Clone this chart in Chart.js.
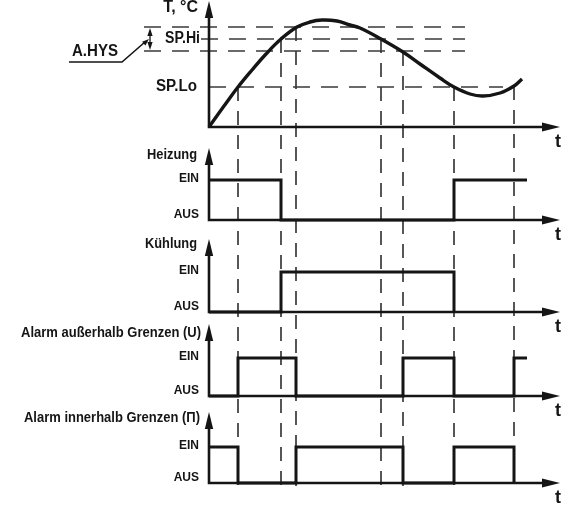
<!DOCTYPE html>
<html lang="de">
<head>
    <meta charset="UTF-8">
    <title>Regelung und Alarm</title>
    <style>
        body {
            margin: 0;
            background-color: #fff;
        }

        #wrap {
            position: relative;
            width: 573px;
            height: 507px;
        }
    </style>
</head>
<body>
    <div id="wrap">
        <canvas id="diagram" width="573" height="507"></canvas>
    </div>

    <script src="https://cdn.jsdelivr.net/npm/chart.js"></script>
    <script>
        // time t = 0 is the origin of every axis, temperature in the same units as the plot
        const curveTimes = [0, 15, 29, 43, 57, 72, 88, 101, 113, 128, 141, 151, 172, 194, 211, 231, 245, 261, 274, 291, 305, 313];
        const curveTemps = [0, 21, 40, 57, 73, 88, 100, 105, 107, 106, 102, 99, 88, 75, 63, 49, 40, 33, 31, 34, 41, 48];

        const spLo = 40;
        const spHi = 88;
        const hys = 12;

        // moments where the curve crosses a limit, and the temperature there
        const switchTimes = [29, 72, 87, 172, 194, 245, 305];
        const switchTemps = [40, 88, 100, 88, 75, 40, 41];

        const heizungTimes = [0, 72, 245, 318];
        const heizungStates = [1, 0, 1, 1];
        const kuehlungTimes = [0, 72, 245];
        const kuehlungStates = [0, 1, 0];
        const aussenTimes = [0, 29, 87, 194, 245, 305, 318];
        const aussenStates = [0, 1, 0, 1, 0, 1, 1];
        const innenTimes = [0, 29, 87, 194, 245, 305];
        const innenStates = [1, 0, 1, 0, 1, 0];

        // layout (pixels)
        const W = 573, H = 507;
        const X0 = 209;
        const T_AXIS = 127;
        const BOTTOM = 486;
        const TIP_X = 560;

        const panels = [
            { id: 'yH', title: 'Heizung', axis: 220, ein: 180, tip: 148, titleY: 155, titleRight: 197, titleW: 50, times: heizungTimes, states: heizungStates },
            { id: 'yK', title: 'Kühlung', axis: 312, ein: 272, tip: 239, titleY: 244, titleRight: 197, titleW: 52, times: kuehlungTimes, states: kuehlungStates },
            { id: 'yU', title: 'Alarm außerhalb Grenzen (U)', axis: 396, ein: 358, tip: 324, titleY: 333, titleRight: 201, titleW: 180, times: aussenTimes, states: aussenStates },
            { id: 'yP', title: 'Alarm innerhalb Grenzen (Π)', axis: 483, ein: 447, tip: 412, titleY: 418, titleRight: 200, titleW: 176, times: innenTimes, states: innenStates }
        ];

        const INK = '#151515';
        const DASH = '#3a3a3a';

        const scales = {
            x: { type: 'linear', display: false, min: -X0, max: W - X0 },
            y: { type: 'linear', display: false, min: T_AXIS - H, max: T_AXIS }
        };
        panels.forEach(p => {
            const span = p.axis - p.ein;
            scales[p.id] = { type: 'linear', display: false, min: (p.axis - H) / span, max: p.axis / span };
        });

        const datasets = [];

        datasets.push({
            data: curveTimes.map((t, i) => ({ x: t, y: curveTemps[i] })),
            yAxisID: 'y',
            borderColor: INK,
            borderWidth: 3.4,
            tension: 0.4,
            pointRadius: 0,
            order: 0
        });

        panels.forEach(p => {
            datasets.push({
                data: p.times.map((t, i) => ({ x: t, y: p.states[i] })),
                yAxisID: p.id,
                stepped: true,
                borderColor: INK,
                borderWidth: 3,
                borderJoinStyle: 'miter',
                pointRadius: 0,
                order: 0
            });
        });

        // horizontal guide lines: [temperature, from t, to t]
        const guides = [
            [spHi + hys, -65, 256],
            [spHi, -8, 256],
            [spHi - hys, -65, 256],
            [spLo, 0, 294]
        ];
        guides.forEach(g => {
            datasets.push({
                data: [{ x: g[1], y: g[0] }, { x: g[2], y: g[0] }],
                yAxisID: 'y',
                borderColor: DASH,
                borderWidth: 1.7,
                borderDash: [17, 11],
                pointRadius: 0,
                order: 2
            });
        });

        switchTimes.forEach((t, i) => {
            datasets.push({
                data: [{ x: t, y: switchTemps[i] }, { x: t, y: T_AXIS - BOTTOM }],
                yAxisID: 'y',
                borderColor: DASH,
                borderWidth: 1.7,
                borderDash: [14, 10],
                pointRadius: 0,
                order: 2
            });
        });

        function font(size) {
            return 'bold ' + size + 'px "Liberation Sans", Arial, sans-serif';
        }

        function label(ctx, text, right, y, size, width) {
            ctx.font = font(size);
            ctx.textAlign = 'right';
            ctx.textBaseline = 'middle';
            ctx.fillText(text, right, y, width);
        }

        function head(ctx, tx, ty, dx, dy, len, half) {
            // filled arrow head with tip (tx, ty) pointing along (dx, dy)
            const bx = tx - dx * len, by = ty - dy * len;
            ctx.beginPath();
            ctx.moveTo(tx, ty);
            ctx.lineTo(bx - dy * half, by + dx * half);
            ctx.lineTo(bx + dy * half, by - dx * half);
            ctx.closePath();
            ctx.fill();
        }

        function drawAxis(ctx, ox, oy, tipY) {
            ctx.lineWidth = 2.6;
            ctx.beginPath();
            ctx.moveTo(ox, tipY + 10);
            ctx.lineTo(ox, oy);
            ctx.lineTo(TIP_X - 10, oy);
            ctx.stroke();
            head(ctx, ox, tipY, 0, -1, 17, 4.2);
            head(ctx, TIP_X, oy, 1, 0, 18, 4.5);
            ctx.font = font(18);
            ctx.textAlign = 'center';
            ctx.textBaseline = 'middle';
            ctx.fillText('t', TIP_X - 2, oy + 15);
        }

        const decor = {
            id: 'decor',
            afterDatasetsDraw(chart) {
                const ctx = chart.ctx;
                const sx = chart.scales.x;
                const sy = chart.scales.y;
                const ox = sx.getPixelForValue(0);
                ctx.save();
                ctx.fillStyle = INK;
                ctx.strokeStyle = INK;
                ctx.lineCap = 'butt';

                // temperature panel
                drawAxis(ctx, ox, sy.getPixelForValue(0), 1);
                label(ctx, 'T, °C', 198, 8, 16, 35);
                label(ctx, 'SP.Hi', 200, sy.getPixelForValue(spHi), 16, 35);
                label(ctx, 'SP.Lo', 197, sy.getPixelForValue(spLo), 16, 41);

                // hysteresis marker
                const hx = sx.getPixelForValue(-59);
                const hTop = sy.getPixelForValue(spHi + hys);
                const hBot = sy.getPixelForValue(spHi - hys);
                ctx.lineWidth = 1.3;
                ctx.beginPath();
                ctx.moveTo(hx, hTop + 4);
                ctx.lineTo(hx, hBot - 4);
                ctx.stroke();
                head(ctx, hx, hTop + 1, 0, -1, 8, 2.6);
                head(ctx, hx, hBot - 1, 0, 1, 8, 2.6);
                ctx.lineWidth = 1.6;
                ctx.beginPath();
                ctx.moveTo(69, 62);
                ctx.lineTo(122, 62);
                ctx.lineTo(145, 42);
                ctx.stroke();
                head(ctx, hx - 1, 39, 0.75, -0.66, 7, 2.5);
                label(ctx, 'A.HYS', 118, 52, 16, 46);

                // signal panels
                panels.forEach(p => {
                    const s = chart.scales[p.id];
                    drawAxis(ctx, ox, s.getPixelForValue(0), p.tip);
                    label(ctx, p.title, p.titleRight, p.titleY, 15, p.titleW);
                    label(ctx, 'EIN', 199, s.getPixelForValue(1) - 1, 12, 20);
                    label(ctx, 'AUS', 199, s.getPixelForValue(0) - 5, 12, 26);
                });
                ctx.restore();
            }
        };

        new Chart(document.getElementById('diagram'), {
            type: 'line',
            data: { datasets: datasets },
            options: {
                responsive: false,
                animation: false,
                events: [],
                layout: { padding: 0 },
                scales: scales,
                plugins: {
                    legend: { display: false },
                    tooltip: { enabled: false }
                }
            },
            plugins: [decor]
        });
    </script>
</body>
</html>
